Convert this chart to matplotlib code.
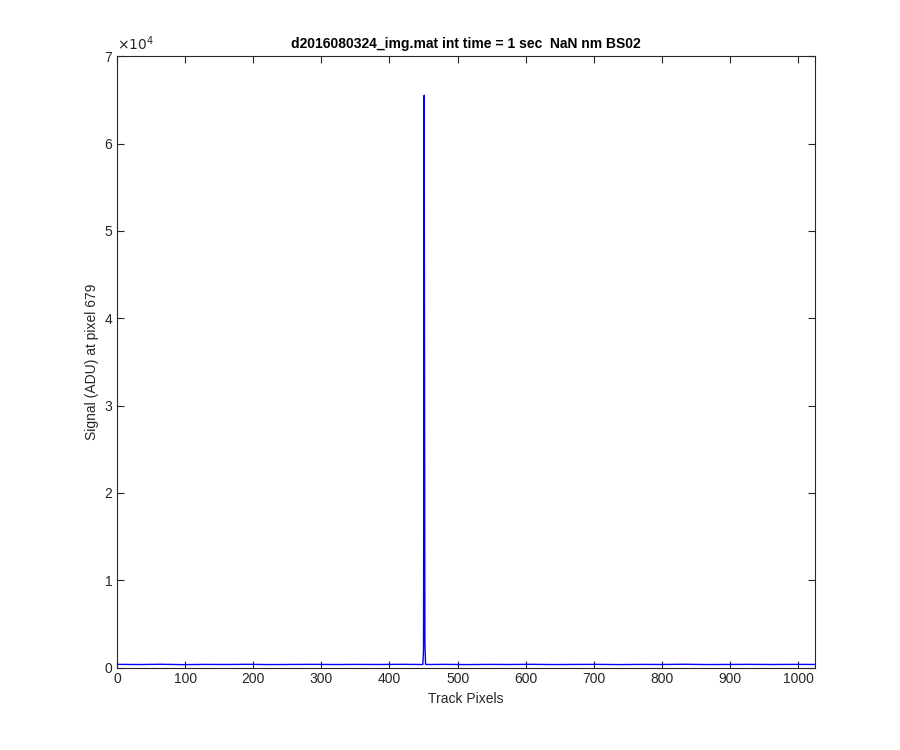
import matplotlib
matplotlib.use("Agg")
import matplotlib.pyplot as plt
import numpy as np

# Track pixel positions and signal readings (ADU)
track_pixels = [1, 32, 64, 96, 128, 160, 192, 224, 256, 288, 320, 352, 384, 416, 440,
                449, 450, 451, 452, 453, 460, 480, 512, 544, 576, 608, 640, 672, 704,
                736, 768, 800, 832, 864, 896, 928, 960, 992, 1024]
signal_adu = [360, 340, 370, 330, 355, 345, 365, 335, 350, 360, 340, 355, 345, 365, 350,
              340, 2000, 65535, 3000, 350, 345, 360, 335, 355, 345, 365, 340, 350, 360,
              335, 355, 345, 370, 340, 350, 360, 345, 355, 350]

title = "d2016080324_img.mat int time = 1 sec  NaN nm BS02"
xlabel = "Track Pixels"
ylabel = "Signal (ADU) at pixel 679"
xticks = [0, 100, 200, 300, 400, 500, 600, 700, 800, 900, 1000]
yticks = [0, 1, 2, 3, 4, 5, 6, 7]

plt.rcParams['font.family'] = ['Liberation Sans', 'DejaVu Sans']
fig = plt.figure(figsize=(9, 7.5), dpi=100)
ax = fig.add_axes([0.13, 0.11, 0.775, 0.815])
ax.plot(track_pixels, np.array(signal_adu) / 1e4, color=(0, 0, 1), lw=1.0)
ax.set_xlim(0, 1024)
ax.set_ylim(0, 7)
ax.set_xticks(xticks)
ax.set_yticks(yticks)
ax.set_xticklabels([str(t) for t in xticks])
ax.set_yticklabels([str(t) for t in yticks])
edge = (0.15, 0.15, 0.15)
for s in ax.spines.values():
    s.set_color(edge)
    s.set_linewidth(0.8)
ax.tick_params(direction='in', top=True, right=True, length=5, width=0.8,
               colors=edge, labelsize=10, labelcolor=edge)
ax.set_xlabel(xlabel, fontsize=10, color=edge)
ax.set_ylabel(ylabel, fontsize=10, color=edge)
ax.set_title(title, fontsize=10, fontweight='bold', color='black', pad=6)
ax.text(0.0, 1.005, r"$\times10^{4}$", transform=ax.transAxes, fontsize=10,
        color=edge, ha='left', va='bottom', math_fontfamily='dejavusans')
fig.savefig("out.png", dpi=100)
